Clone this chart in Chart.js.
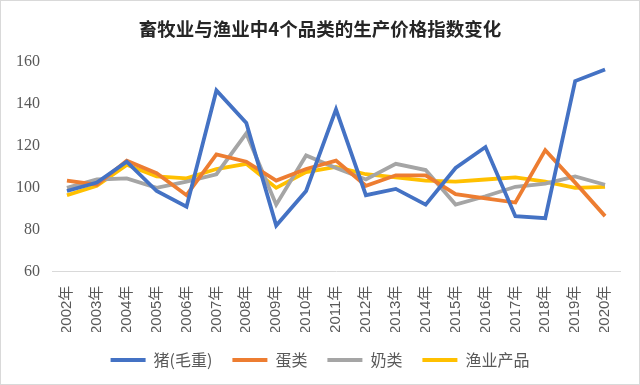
<!DOCTYPE html>
<html>
<head>
<meta charset="utf-8">
<script src="https://cdn.jsdelivr.net/npm/chart.js@4/dist/chart.umd.min.js"></script>
<style>
    body { margin: 0; background: #fff; }
    #box { width: 640px; height: 385px; box-sizing: border-box; border: 1px solid #d9d9d9; }
</style>
</head>
<body>
<div id="box"><canvas id="grafico" width="638" height="383"></canvas></div>
<script>
    const anos = ['2002年', '2003年', '2004年', '2005年', '2006年', '2007年', '2008年', '2009年', '2010年', '2011年',
        '2012年', '2013年', '2014年', '2015年', '2016年', '2017年', '2018年', '2019年', '2020年'];
    const porco = [98.5, 102.5, 112.5, 98.5, 91, 146.5, 131, 82, 98.5, 137.5, 96.5, 99.5, 92, 109.5, 119.5, 86.5, 85.5, 151, 156.5];
    const ovos = [103.5, 101.5, 113, 107, 96.5, 116, 112.5, 103.5, 109, 113, 101, 106, 106, 97, 95, 93, 118, 102.5, 86.5];
    const leite = [100, 104, 104.5, 100, 103, 106.5, 126, 92, 115.5, 109.5, 104, 111.5, 108.5, 92, 96, 100.5, 102, 105.5, 101.5];
    const pesca = [96.5, 101, 111, 105.5, 104.5, 109, 111.5, 100, 107.5, 110, 106.5, 105, 103.5, 103, 104, 105, 103, 100, 100.5];
    const ticksY = [60, 80, 100, 120, 140, 160];

    const cores = ['#4472C4', '#ED7D31', '#A5A5A5', '#FFC000'];
    const nomes = ['猪(毛重)', '蛋类', '奶类', '渔业产品'];
    const series = [porco, ovos, leite, pesca];

    const ctx = document.getElementById('grafico').getContext('2d');
    new Chart(ctx, {
        type: 'line',
        data: {
            labels: anos,
            datasets: series.map((s, i) => ({
                label: nomes[i],
                data: s,
                borderColor: cores[i],
                backgroundColor: cores[i],
                borderWidth: 3.8,
                pointRadius: 0,
                tension: 0,
                fill: false
            }))
        },
        options: {
            responsive: false,
            animation: false,
            layout: { padding: { left: 0, right: 0, top: 0, bottom: 6 } },
            plugins: {
                title: {
                    display: true,
                    text: '畜牧业与渔业中4个品类的生产价格指数变化',
                    color: '#262626',
                    font: { family: '"Noto Sans CJK SC"', size: 18.5, weight: 'bold', lineHeight: 1.2 },
                    padding: { top: 17, bottom: 22 }
                },
                legend: {
                    position: 'bottom',
                    labels: {
                        boxWidth: 35,
                        boxHeight: 4,
                        padding: 20,
                        color: '#595959',
                        font: { family: '"Noto Sans CJK SC"', size: 16 },
                        generateLabels: (chart) => {
                            const itens = Chart.defaults.plugins.legend.labels.generateLabels(chart);
                            itens.forEach(it => { it.lineWidth = 0; it.strokeStyle = 'transparent'; });
                            return itens;
                        }
                    }
                },
                tooltip: { enabled: false }
            },
            scales: {
                x: {
                    offset: true,
                    grid: { display: false },
                    border: { display: true, color: '#d9d9d9', width: 1 },
                    afterFit: (scale) => { scale.height -= 8; },
                    ticks: {
                        minRotation: 90,
                        maxRotation: 90,
                        autoSkip: false,
                        padding: 6,
                        color: '#595959',
                        font: { family: '"Liberation Sans", "Noto Sans CJK SC"', size: 15 }
                    }
                },
                y: {
                    min: 60,
                    max: 160,
                    afterBuildTicks: (scale) => { scale.ticks = ticksY.map(v => ({ value: v })); },
                    afterFit: (scale) => { scale.width = 51; },
                    grid: { display: false, drawTicks: false },
                    border: { display: false },
                    ticks: {
                        padding: 12,
                        color: '#595959',
                        font: { family: '"Liberation Serif"', size: 16 }
                    }
                },
                margem: {
                    position: 'right',
                    afterFit: (scale) => { scale.width = 19; },
                    grid: { display: false, drawTicks: false },
                    border: { display: false },
                    ticks: { display: false }
                }
            }
        }
    });
</script>
</body>
</html>
